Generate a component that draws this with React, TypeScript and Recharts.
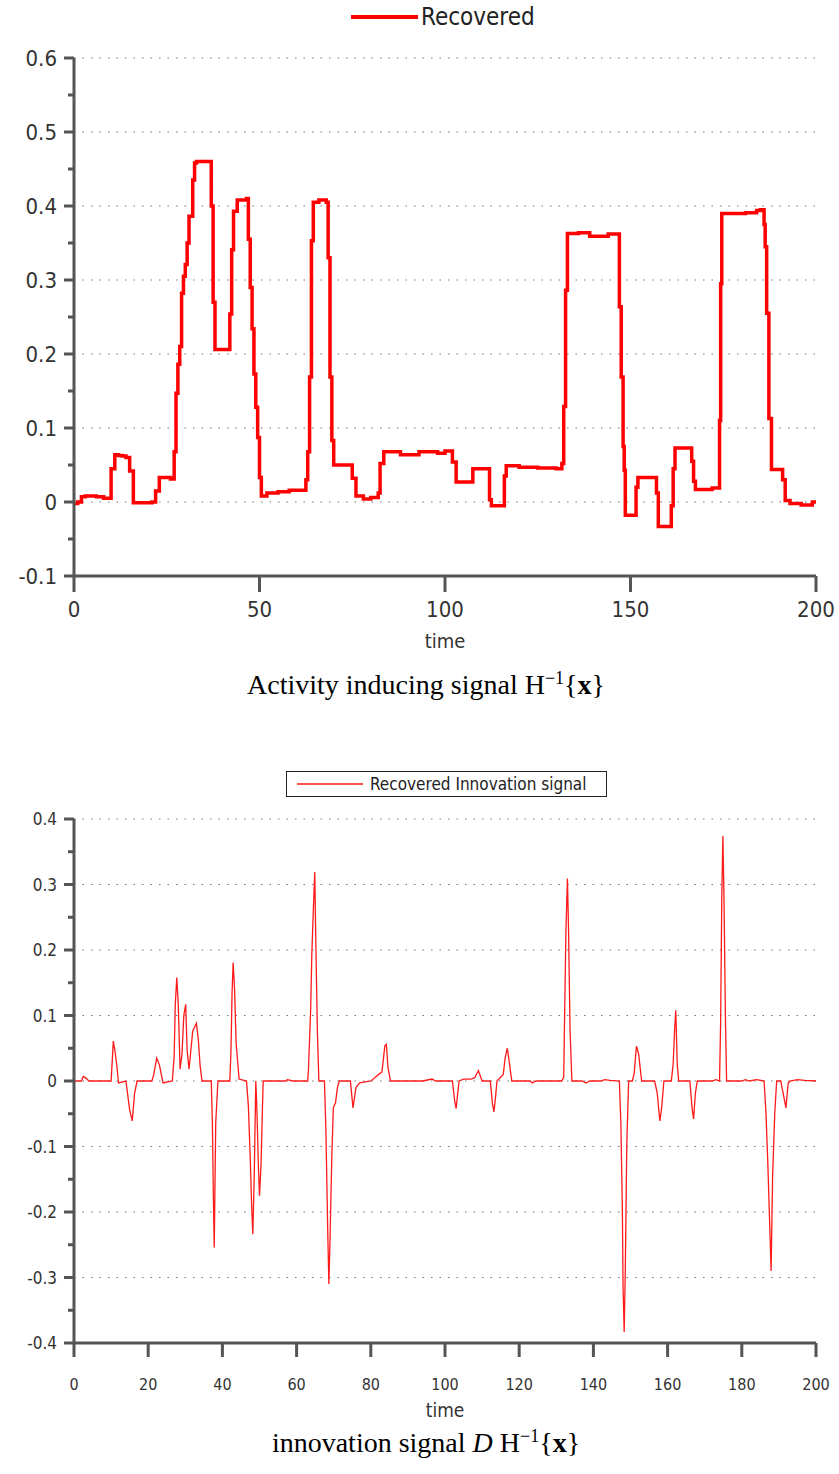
import { LineChart, Line, XAxis, YAxis, CartesianGrid, Legend } from "recharts";

const FONT = "'DejaVu Sans Condensed', 'DejaVu Sans', sans-serif";
const SERIF = "'Liberation Serif', 'DejaVu Serif', serif";
const AXIS = "#555555";

// Activity inducing signal (top)
const TOP_TIME = [
    0, 1, 2, 3, 6, 8, 10, 11, 12, 13, 14, 15, 16, 21, 22, 23, 26, 27, 27.5, 28,
    28.5, 29, 29.5, 30, 30.5, 31, 32, 32.5, 33, 36.5, 37, 37.5, 38, 42, 42.5, 43,
    44, 46.5, 47, 47.5, 48, 48.5, 49, 49.5, 50, 50.5, 52, 55, 58, 62.5, 63, 63.5,
    64, 64.5, 66, 68, 68.5, 69, 69.5, 70, 75, 76, 78, 80, 82, 82.5, 83.5, 88, 93,
    98, 100, 102, 103, 107.5, 112, 112.5, 116, 116.5, 120, 125, 130, 131.5, 132,
    132.5, 133, 136, 139, 144, 147, 147.5, 148, 148.3, 148.6, 151.5, 152, 157,
    157.5, 161, 161.5, 162, 166.5, 167, 167.5, 172, 174, 174.3, 174.6, 178, 181,
    184, 185, 186, 186.3, 186.7, 187.3, 188, 191, 191.7, 193, 196, 199, 200,
];
const TOP_VALUE = [
    -0.002, 0, 0.007, 0.008, 0.007, 0.005, 0.045, 0.064, 0.063, 0.062, 0.06, 0.042, -0.001, 0, 0.015, 0.033, 0.031, 0.068, 0.147, 0.186,
    0.21, 0.282, 0.305, 0.321, 0.35, 0.386, 0.435, 0.458, 0.46, 0.46, 0.4, 0.27, 0.206, 0.254, 0.341, 0.393,
    0.408, 0.41, 0.355, 0.29, 0.234, 0.173, 0.128, 0.087, 0.033, 0.008, 0.012, 0.014, 0.016, 0.03, 0.068, 0.169,
    0.353, 0.405, 0.408, 0.405, 0.33, 0.169, 0.083, 0.05, 0.032, 0.008, 0.004, 0.006, 0.012, 0.052, 0.068, 0.064, 0.068,
    0.066, 0.069, 0.054, 0.027, 0.045, 0.003, -0.005, 0.035, 0.049, 0.047, 0.046, 0.045, 0.052, 0.129,
    0.286, 0.363, 0.364, 0.359, 0.362, 0.264, 0.169, 0.075, 0.043, -0.018, 0.02, 0.033, 0.012,
    -0.033, -0.005, 0.045, 0.073, 0.055, 0.028, 0.017, 0.019, 0.11, 0.295, 0.39, 0.39, 0.391,
    0.394, 0.395, 0.375, 0.345, 0.255, 0.113, 0.044, 0.03, 0.002, -0.002, -0.004, 0, 0,
];
const TOP_Y_TICKS = [-0.1, -0.05, 0, 0.05, 0.1, 0.15, 0.2, 0.25, 0.3, 0.35, 0.4, 0.45, 0.5, 0.55, 0.6];
const TOP_GRID = [-0.1, 0, 0.1, 0.2, 0.3, 0.4, 0.5, 0.6];
const TOP_X_TICKS = [0, 50, 100, 150, 200];

// Innovation signal (bottom)
const BOT_TIME = [
    0, 2, 2.5, 3.3, 4, 10, 10.3, 10.6, 11, 11.5, 12, 14, 15, 15.7, 16.3, 17, 21, 21.5, 22.3, 23,
    24, 26.5, 27, 27.3, 27.7, 28.1, 28.6, 29.1, 29.6, 30.1, 30.5, 31, 31.5, 32, 32.5, 33, 33.5, 34, 34.5,
    37, 37.3, 37.6, 37.8, 38.2, 38.8, 42, 42.3, 42.6, 42.9, 43.3, 43.7, 44.5, 46.5, 47, 47.5, 47.9,
    48.2, 48.6, 49, 49.3, 49.7, 50, 50.4, 50.8, 51, 57, 57.5, 59, 63, 63.2, 63.8, 64.1, 64.6, 64.9,
    65.1, 65.6, 66, 67.5, 67.9, 68.4, 68.7, 69, 69.5, 69.9, 70.5, 71, 71.5, 74.5, 75.2, 76, 77, 80,
    83, 83.8, 84.2, 84.6, 85.3, 94, 96.5, 97.5, 102, 102.6, 103, 103.4, 103.8, 105, 107, 108, 109,
    110, 112.2, 112.8, 113.2, 113.7, 114, 115.7, 116.2, 116.8, 117.3, 118, 123, 123.5, 124.5, 131.5,
    132, 132.2, 132.6, 133, 133.3, 133.7, 134.2, 137, 138, 139, 142, 143, 144.5, 147, 147.4, 147.8,
    148, 148.3, 148.6, 149, 149.5, 150.5, 151, 151.6, 152.2, 153, 156.5, 157.2, 157.9, 158.4, 159,
    161, 161.5, 161.9, 162.2, 162.6, 163, 166, 166.6, 167, 167.5, 168, 172, 173, 174, 174.3, 174.6,
    174.9, 175.2, 175.6, 175.9, 180, 181, 182, 184, 186, 186.5, 187, 187.6, 187.9, 188.3, 188.9,
    189.4, 190.5, 191.9, 192.5, 193, 195, 197, 200,
];
const BOT_VALUE = [
    0, 0, 0.007, 0.004, 0, 0, 0.03, 0.061, 0.047, 0.026, -0.003, 0, -0.044, -0.061, -0.02, 0, 0, 0.01, 0.035, 0.025,
    -0.003, 0, 0.038, 0.117, 0.158, 0.117, 0.018, 0.041, 0.1, 0.117, 0.047, 0.018, 0.047, 0.076, 0.082, 0.088, 0.064, 0.023, 0,
    0, -0.064, -0.19, -0.254, -0.064, 0, 0, 0.044, 0.134, 0.181, 0.137, 0.058, 0.003, 0, -0.038, -0.117, -0.193,
    -0.234, -0.14, 0, -0.044, -0.129, -0.175, -0.129, -0.04, 0, 0, 0.002, 0, 0, 0.018, 0.111, 0.193, 0.275, 0.319,
    0.24, 0.076, 0, 0, -0.076, -0.231, -0.31, -0.243, -0.114, -0.041, -0.033, -0.01, 0, 0, -0.041, -0.01, -0.003, 0,
    0.014, 0.054, 0.056, 0.022, 0, 0, 0.003, 0, 0, -0.03, -0.042, -0.02, 0, 0.003, 0.003, 0.005, 0.016,
    0, 0, -0.035, -0.047, -0.02, 0, 0.01, 0.035, 0.05, 0.03, 0, 0, -0.003, 0, 0,
    0.006, 0.085, 0.231, 0.309, 0.231, 0.079, 0, 0, -0.003, 0, 0, 0.002, 0.001, 0, -0.064, -0.193,
    -0.316, -0.383, -0.287, -0.096, 0, 0, 0.012, 0.053, 0.041, 0, 0, -0.018, -0.061, -0.041, 0,
    0, 0.026, 0.079, 0.108, 0.026, 0, 0, -0.041, -0.058, -0.018, 0, 0, 0.002, 0, 0.091, 0.278,
    0.374, 0.278, 0.091, 0, 0, 0.002, 0, 0.002, 0, -0.047, -0.123, -0.234, -0.29, -0.146, -0.047,
    0, 0, -0.041, -0.003, 0, 0.002, 0.001, 0,
];
const BOT_Y_TICKS = [-0.4, -0.35, -0.3, -0.25, -0.2, -0.15, -0.1, -0.05, 0, 0.05, 0.1, 0.15, 0.2, 0.25, 0.3, 0.35, 0.4];
const BOT_GRID = [-0.4, -0.3, -0.2, -0.1, 0, 0.1, 0.2, 0.3, 0.4];
const BOT_X_TICKS = [0, 20, 40, 60, 80, 100, 120, 140, 160, 180, 200];

const topData = TOP_TIME.map((t, i) => ({ t, v: TOP_VALUE[i] }));
const botData = BOT_TIME.map((t, i) => ({ t, v: BOT_VALUE[i] }));

const isMajor = (v: number) => Math.abs(Math.round(v * 10) - v * 10) < 1e-6;
const fmt = (v: number) => (Math.abs(v) < 1e-9 ? "0" : v.toFixed(1));

const YTick = ({ x, y, payload, size }: any) => {
    const major = isMajor(payload.value);
    return (
        <g>
            <line x1={x - (major ? 10 : 6)} x2={x} y1={y} y2={y} stroke={AXIS} strokeWidth={3} />
            {major && (
                <text x={x - 17} y={y} textAnchor="end" dominantBaseline="central"
                    fontFamily={FONT} fontSize={size} fill="#333">
                    {fmt(payload.value)}
                </text>
            )}
        </g>
    );
};

const XTick = ({ x, y, payload, size, len, gap }: any) => (
    <g>
        <line x1={x} x2={x} y1={y} y2={y + len} stroke={AXIS} strokeWidth={3} />
        <text x={x} y={y + gap} textAnchor="middle" dominantBaseline="central"
            fontFamily={FONT} fontSize={size} fill="#333">
            {payload.value}
        </text>
    </g>
);

const TopLegend = () => (
    <div style={{ display: "flex", alignItems: "center", fontFamily: FONT, fontSize: 24, color: "#222" }}>
        <svg width={70} height={10}>
            <line x1={0} x2={67} y1={5} y2={5} stroke="#ff0000" strokeWidth={4} />
        </svg>
        <span>Recovered</span>
    </div>
);

const BottomLegend = () => (
    <div style={{
        display: "flex", alignItems: "center", boxSizing: "border-box",
        width: 321, height: 26, border: "1.5px solid #222", background: "#fff",
        fontFamily: FONT, fontSize: 17, color: "#222",
    }}>
        <svg width={83} height={10}>
            <line x1={10} x2={76} y1={5} y2={5} stroke="#ff1a1a" strokeWidth={1.3} />
        </svg>
        <span>Recovered Innovation signal</span>
    </div>
);

const captionStyle: React.CSSProperties = {
    position: "absolute", left: 0, width: 852, textAlign: "center",
    fontFamily: SERIF, fontSize: 28, color: "#000",
};

export default function App() {
    return (
        <div style={{ position: "absolute", left: 0, top: 0, width: 839, height: 1474, background: "#fff" }}>
            <div style={{ position: "absolute", left: 0, top: 0 }}>
                <LineChart width={839} height={660} data={topData}
                    margin={{ top: 58, right: 23, bottom: 0, left: 0 }}>
                    <CartesianGrid vertical={false} horizontalValues={TOP_GRID}
                        stroke="#777" strokeDasharray="1.5 7" />
                    <XAxis dataKey="t" type="number" domain={[0, 200]} ticks={TOP_X_TICKS}
                        height={84} tickSize={0} tickMargin={0} tickLine={false}
                        axisLine={{ stroke: AXIS, strokeWidth: 3 }}
                        tick={(p: any) => <XTick {...p} size={22} len={16} gap={33} />}
                        label={{ value: "time", position: "insideBottom", offset: 12,
                            style: { fontFamily: FONT, fontSize: 20, fill: "#333" } }} />
                    <YAxis type="number" domain={[-0.1, 0.6]} ticks={TOP_Y_TICKS} width={74}
                        tickSize={0} tickMargin={0} tickLine={false} interval={0}
                        axisLine={{ stroke: AXIS, strokeWidth: 3 }}
                        tick={(p: any) => <YTick {...p} size={22} />} />
                    <Legend verticalAlign="middle" align="center" content={() => <TopLegend />}
                        wrapperStyle={{ top: 3, left: 351, width: 300 }} />
                    <Line dataKey="v" name="Recovered" type="stepAfter" stroke="#ff0000"
                        strokeWidth={3.5} dot={false} isAnimationActive={false} />
                </LineChart>
            </div>
            <div style={{ ...captionStyle, top: 668 }}>
                Activity inducing signal H<sup style={{ fontSize: 18 }}>−1</sup>{"{"}<b>x</b>{"}"}
            </div>

            <div style={{ position: "absolute", left: 0, top: 740 }}>
                <LineChart width={839} height={680} data={botData}
                    margin={{ top: 79, right: 23, bottom: 0, left: 0 }}>
                    <CartesianGrid vertical={false} horizontalValues={BOT_GRID}
                        stroke="#777" strokeDasharray="1.5 7" />
                    <XAxis dataKey="t" type="number" domain={[0, 200]} ticks={BOT_X_TICKS}
                        height={77} tickSize={0} tickMargin={0} tickLine={false} interval={0}
                        axisLine={{ stroke: AXIS, strokeWidth: 3 }}
                        tick={(p: any) => <XTick {...p} size={16} len={14} gap={41} />}
                        label={{ value: "time", position: "insideBottom", offset: 3,
                            style: { fontFamily: FONT, fontSize: 19, fill: "#333" } }} />
                    <YAxis type="number" domain={[-0.4, 0.4]} ticks={BOT_Y_TICKS} width={74}
                        tickSize={0} tickMargin={0} tickLine={false} interval={0}
                        axisLine={{ stroke: AXIS, strokeWidth: 3 }}
                        tick={(p: any) => <YTick {...p} size={17} />} />
                    <Legend verticalAlign="middle" align="center" content={() => <BottomLegend />}
                        wrapperStyle={{ top: 31, left: 286, width: 321 }} />
                    <Line dataKey="v" name="Recovered Innovation signal" type="linear" stroke="#ff1a1a"
                        strokeWidth={1.3} dot={false} isAnimationActive={false} />
                </LineChart>
            </div>
            <div style={{ ...captionStyle, top: 1426 }}>
                innovation signal <i>D</i> H<sup style={{ fontSize: 18 }}>−1</sup>{"{"}<b>x</b>{"}"}
            </div>
        </div>
    );
}
